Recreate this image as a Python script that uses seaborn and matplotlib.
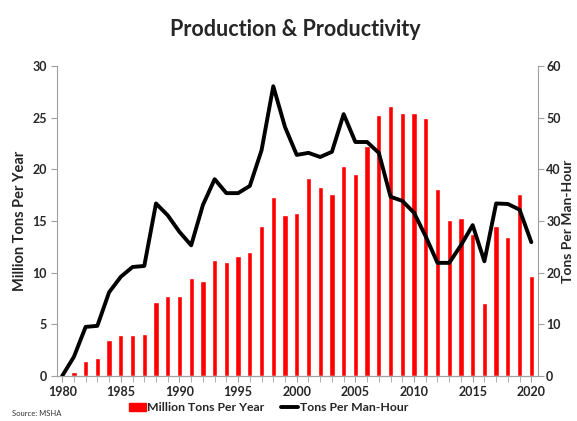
import matplotlib
matplotlib.use("Agg")
import matplotlib.pyplot as plt
import seaborn as sns
import pandas as pd
from matplotlib.patches import Patch
from matplotlib.lines import Line2D
from matplotlib.ticker import MultipleLocator

# Data
bar_years = list(range(1981, 2021))
million_tons = [0.4, 1.4, 1.75, 3.5, 3.95, 3.95, 4.05, 7.2, 7.7, 7.7,
                9.5, 9.2, 11.2, 11.0, 11.6, 12.0, 14.5, 17.3, 15.6, 15.8,
                19.2, 18.3, 17.6, 20.3, 19.6, 22.3, 25.3, 26.1, 25.5, 25.5,
                25.0, 18.1, 15.1, 15.3, 13.7, 7.1, 14.5, 13.5, 17.6, 9.7]
line_years = list(range(1980, 2021))
tons_per_hour = [0.0, 3.7, 9.5, 9.7, 16.2, 19.2, 21.1, 21.3, 33.4, 31.1,
                 27.9, 25.3, 33.1, 38.1, 35.4, 35.4, 36.8, 43.7, 56.1, 48.2,
                 42.8, 43.2, 42.4, 43.4, 50.7, 45.3, 45.3, 43.2, 34.7, 33.9,
                 31.6, 27.0, 21.9, 21.9, 25.3, 29.2, 22.2, 33.4, 33.3, 32.2,
                 25.9]

bars = pd.DataFrame({"year": bar_years, "tons": million_tons})
lines = pd.DataFrame({"year": line_years, "tph": tons_per_hour})

sns.set_style("white")
plt.rcParams["font.family"] = ["Lato", "DejaVu Sans"]

fig = plt.figure(figsize=(5.77, 4.21), dpi=100)
ax = fig.add_axes([0.099, 0.107, 0.833, 0.736])

sns.barplot(data=bars, x="year", y="tons", native_scale=True, width=0.45,
            color="#ff0000", saturation=1, ax=ax)
ax2 = ax.twinx()
sns.lineplot(data=lines, x="year", y="tph", color="black", linewidth=2.8, ax=ax2)

ax.set_xlim(1979.57, 2020.55)
ax.set_ylim(0, 30)
ax2.set_ylim(0, 60)
ax.yaxis.set_major_locator(MultipleLocator(5))
ax2.yaxis.set_major_locator(MultipleLocator(10))
ax.xaxis.set_major_locator(MultipleLocator(5))
ax.xaxis.set_minor_locator(MultipleLocator(1))

for a in (ax, ax2):
    for s in a.spines.values():
        s.set_color("#a0a0a0")
        s.set_linewidth(0.8)
    a.spines["top"].set_visible(False)
ax.spines["right"].set_visible(False)
ax2.spines["left"].set_visible(False)

ax.tick_params(axis="y", length=4, color="#a0a0a0", labelsize=9, direction="out", left=True)
ax2.tick_params(axis="y", length=4, color="#a0a0a0", labelsize=9, direction="out", right=True, pad=2)
ax.tick_params(axis="x", which="both", length=4, color="#a0a0a0", labelsize=9, bottom=True, pad=3)
for lbl in ax.get_xticklabels() + ax.get_yticklabels() + ax2.get_yticklabels():
    lbl.set_fontweight("bold")

ax.set_xlabel("")
ax.set_ylabel("Million Tons Per Year", fontsize=10.5, fontweight="bold", labelpad=4)
ax2.set_ylabel("Tons Per Man-Hour", fontsize=10, fontweight="bold", labelpad=1)

fig.suptitle("Production & Productivity", x=0.512, y=0.955, fontsize=15.5, fontweight="bold")

handles = [Patch(color="#ff0000"), Line2D([0], [0], color="black", linewidth=2.8)]
fig.legend(handles, ["Million Tons Per Year", "Tons Per Man-Hour"], loc="center",
           bbox_to_anchor=(0.465, 0.031), ncol=2, frameon=False, handlelength=1.4,
           handletextpad=0.1, columnspacing=1.4, borderpad=0,
           prop={"weight": "bold", "size": 8.8})
fig.text(0.02, 0.012, "Source: MSHA", fontsize=5.5, color="#333333")

fig.savefig("out.png", dpi=100)
